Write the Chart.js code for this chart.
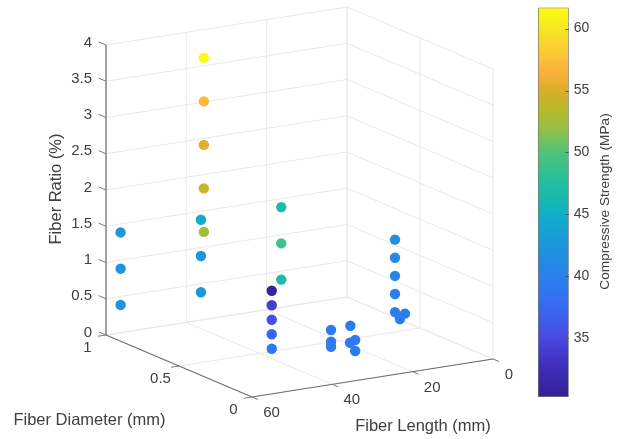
<!DOCTYPE html>
<html>
<head>
<meta charset="utf-8">
<script src="https://cdn.jsdelivr.net/npm/chart.js@4"></script>
<style>
html,body{margin:0;padding:0;background:#fff;width:618px;height:439px;overflow:hidden}
canvas{position:absolute;top:0;filter:blur(0.35px)}
#main{left:0}
#bar{left:530px}
</style>
</head>
<body>
<canvas id="main" width="618" height="439"></canvas>
<canvas id="bar" width="88" height="439"></canvas>
<script>
// ---- data ----
const fiberLength   = [60,60,60, 40,40,40, 40,40,40,40,40, 20,20,20, 42,42,42,42,42, 5.5,5.5,5.5,5.5,5.5, 12.1,15.3, 26.3,31.3,33.45,20.97,28.3,26.2,30.9];
const fiberDiameter = [.9,.9,.9, .9,.9,.9, .88,.88,.88,.88,.88, .9,.9,.9, .36,.36,.36,.36,.36, .52,.52,.52,.52,.52, .27,.217, .386,.248,.189,.40,.201,.223,.094];
const fiberRatio    = [.5,1,1.5, .5,1,1.5, 1.35,1.95,2.55,3.15,3.75, .5,1,1.5, 1,.8,.6,.4,.2, 1.25,1,.75,.5,.25, .5,.5, .3,.3,.3,.3,.3,.3,.3];
const strength      = [42.2,42.2,42.2, 42.5,42.5,44.8, 52.5,54.3,55.5,57,61.5, 47,49,47, 31,34,35.5,37,39, 42,41.2,40.8,40.2,39.8, 39.5,39.5, 39.5,39.5,39.5,39.5,39.5,39.5,39.5];

const lengthTicks   = [0,20,40,60];
const diameterTicks = [0,0.5,1];
const ratioTicks    = [0,0.5,1,1.5,2,2.5,3,3.5,4];
const strengthTicks = [35,40,45,50,55,60];
const strengthRange = [30.27,61.7];

const cmapValues = [30.27,31,33,35,37,39,41,43,45,46,48,50,52,53.5,55,56.5,58,60,61.7];
const cmapColors = ['#33209a','#36249f','#3f30c0','#4a48e0','#3a64f0','#2f78f0','#2488e6','#1a9ad8','#10aec8','#14b8b0','#28c09a','#4fc37a','#97c044','#b8b92a','#d9ae2a','#fbb03c','#fbc835','#f5e820','#fdfb10'];

const titleLength = 'Fiber Length (mm)', titleDiameter = 'Fiber Diameter (mm)', titleRatio = 'Fiber Ratio (%)', titleStrength = 'Compressive Strength (MPa)';

// ---- view: the 3-D axes box projected onto the flat page scales ----
const proj = (L,D,Z) => ({x: 493 - 4.0167*L - 146*D, y: 359 + 0.6333*L - 62*D - 72.5*Z});

function hex(c){return [1,3,5].map(i=>parseInt(c.substr(i,2),16));}
function colorOf(v){
  for(let i=1;i<cmapValues.length;i++){
    if(v<=cmapValues[i]){
      const t=(v-cmapValues[i-1])/(cmapValues[i]-cmapValues[i-1]);
      const a=hex(cmapColors[i-1]),b=hex(cmapColors[i]);
      return 'rgb('+a.map((q,k)=>Math.round(q+(b[k]-q)*t)).join(',')+')';
    }
  }
  return cmapColors[cmapColors.length-1];
}

const segs=[];
const seg=(pts,color,width,order)=>segs.push({type:'scatter',showLine:true,data:pts,borderColor:color,borderWidth:width,pointRadius:0,order,fill:false});
const GRID='#e8e8e8', AX='#7a7a7a';
// grid: back wall D=1, side wall L=0, floor Z=0
ratioTicks.forEach(z=>{ seg([proj(60,1,z),proj(0,1,z),proj(0,0,z)],GRID,1,5); });
lengthTicks.forEach(l=>{ seg([proj(l,0,0),proj(l,1,0),proj(l,1,4)],GRID,1,5); });
diameterTicks.forEach(d=>{ seg([proj(60,d,0),proj(0,d,0),proj(0,d,4)],GRID,1,5); });
// axes lines
seg([proj(60,1,0),proj(60,1,4)],'#858585',1.5,3);
seg([proj(60,1,0),proj(60,0,0),proj(0,0,0)],'#6e6e6e',1.2,3);
// tick marks
ratioTicks.forEach(z=>seg([proj(60,1,z),proj(60,1.05,z)],AX,1,3));
diameterTicks.forEach(d=>seg([proj(60,d,0),proj(62,d,0)],AX,1,3));
lengthTicks.forEach(l=>seg([proj(l,0,0),proj(l,-0.04,0)],AX,1,3));

const points={type:'scatter',order:1,
  data:fiberLength.map((l,i)=>proj(l,fiberDiameter[i],fiberRatio[i])),
  backgroundColor:strength.map(colorOf),borderWidth:0,pointRadius:5.2,pointHoverRadius:5.2};

const FG='#404040', FONT='"Liberation Sans", Arial, sans-serif';
function text(ctx,s,x,y,size,rot){
  ctx.save();ctx.translate(x,y);if(rot)ctx.rotate(rot);
  ctx.font=size+'px '+FONT;ctx.fillStyle=FG;ctx.textBaseline='middle';ctx.textAlign='center';
  ctx.fillText(s,0,0);ctx.restore();
}
const labels={id:'labels3d',afterDraw(c){
  const ctx=c.ctx;
  ctx.save();
  ratioTicks.forEach(z=>{
    const p=proj(60,1,z);
    ctx.font='15px '+FONT;ctx.fillStyle=FG;ctx.textAlign='right';ctx.textBaseline='middle';
    ctx.fillText(String(z),92,p.y-2.5);
  });
  diameterTicks.forEach(d=>{
    const p=proj(60,d,0);
    ctx.font='15px '+FONT;ctx.fillStyle=FG;ctx.textAlign='center';ctx.textBaseline='middle';
    ctx.fillText(String(d),p.x-18.5,p.y+12.5);
  });
  lengthTicks.forEach(l=>{
    const p=proj(l,0,0);
    ctx.font='15px '+FONT;ctx.fillStyle=FG;ctx.textAlign='center';ctx.textBaseline='middle';
    ctx.fillText(String(l),p.x+(l===0?16:19.5),p.y+16);
  });
  ctx.restore();
  text(ctx,titleDiameter,89.5,420,16.5);
  text(ctx,titleLength,423,426,16.5);
  text(ctx,titleRatio,56,189,16.5,-Math.PI/2);
}};

new Chart(document.getElementById('main'),{
  type:'scatter',
  data:{datasets:[points,...segs]},
  options:{responsive:false,animation:false,events:[],
    layout:{padding:0,autoPadding:false},
    plugins:{legend:{display:false},tooltip:{enabled:false},title:{display:false}},
    scales:{x:{type:'linear',min:0,max:618,display:false},y:{type:'linear',min:0,max:439,reverse:true,display:false}}
  },
  plugins:[labels]
});

// ---- colour bar ----
const barDecor={id:'barDecor',afterDraw(c){
  const ctx=c.ctx,s=c.scales.y,a=c.chartArea;
  ctx.save();ctx.strokeStyle='#555';ctx.lineWidth=1;
  strengthTicks.forEach(v=>{const y=Math.round(s.getPixelForValue(v))+.5;ctx.beginPath();ctx.moveTo(a.right-3.5,y);ctx.lineTo(a.right,y);ctx.stroke();});
  ctx.restore();
  text(ctx,titleStrength,75,201.5,13.7,-Math.PI/2);
}};
new Chart(document.getElementById('bar'),{
  type:'bar',
  data:{labels:['strength'],datasets:[{
    data:[strengthRange],
    barPercentage:1,categoryPercentage:1,
    borderColor:'#77776a',borderWidth:1,borderSkipped:false,
    backgroundColor(ctx){
      const ca=ctx.chart.chartArea;
      if(!ca)return '#888';
      const g=ctx.chart.ctx.createLinearGradient(0,ca.bottom,0,ca.top);
      cmapValues.forEach((v,i)=>g.addColorStop((v-strengthRange[0])/(strengthRange[1]-strengthRange[0]),cmapColors[i]));
      return g;
    }
  }]},
  options:{responsive:false,animation:false,events:[],
    layout:{padding:{left:8,top:7.5,bottom:42,right:0},autoPadding:false},
    plugins:{legend:{display:false},tooltip:{enabled:false}},
    scales:{
      x:{display:false,offset:true},
      y:{position:'right',min:strengthRange[0],max:strengthRange[1],
        afterBuildTicks(s){s.ticks=strengthTicks.map(v=>({value:v}));},
        afterFit(s){s.width=49.3;s.paddingTop=0;s.paddingBottom=0;},
        border:{display:false},
        grid:{display:false,drawTicks:false},
        ticks:{color:FG,font:{family:FONT,size:14},padding:5,autoSkip:false,maxRotation:0,minRotation:0}
      }
    }
  },
  plugins:[barDecor]
});
</script>
</body>
</html>
